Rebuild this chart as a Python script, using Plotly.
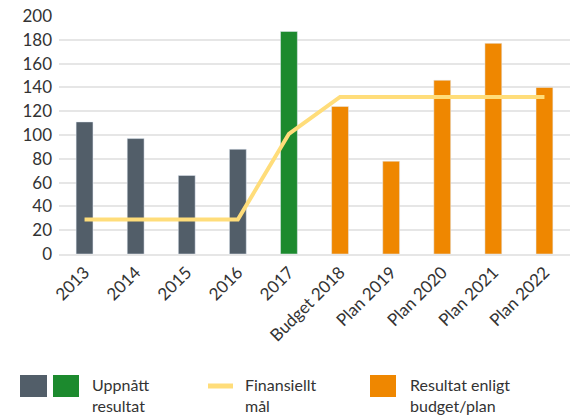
import plotly.graph_objects as go

categories = ["2013", "2014", "2015", "2016", "2017", "Budget 2018",
              "Plan 2019", "Plan 2020", "Plan 2021", "Plan 2022"]
resultat = [111, 97, 66, 88, 187, 124, 78, 146, 177, 140]
mal = [29, 29, 29, 29, 101, 132, 132, 132, 132, 132]
bar_colors = ["#525e69"] * 4 + ["#1c8a2e"] + ["#ef8700"] * 5
y_ticks = [0, 20, 40, 60, 80, 100, 120, 140, 160, 180, 200]

FONT = "Lato"
TXT = "#333333"

fig = go.Figure()
fig.add_trace(go.Bar(x=categories, y=resultat, marker_color=bar_colors,
                     width=0.33, showlegend=False))
fig.add_trace(go.Scatter(x=categories, y=mal, mode="lines",
                         line=dict(color="#ffdd7a", width=4), showlegend=False))

fig.update_layout(
    width=584, height=418,
    margin=dict(l=59, r=14, t=16, b=164),
    paper_bgcolor="white", plot_bgcolor="white",
    font=dict(family=FONT, size=17, color=TXT),
)
fig.update_xaxes(tickangle=-45, showgrid=False, showline=True,
                 linecolor="#e6e6e6", linewidth=1.5, ticks="",
                 automargin=False, tickfont=dict(size=17, color=TXT))
fig.update_yaxes(range=[0, 200], tickvals=y_ticks, showgrid=True,
                 gridcolor="#e6e6e6", gridwidth=1.5, zeroline=False,
                 ticks="", automargin=False, ticklabelstandoff=6,
                 tickfont=dict(size=17, color=TXT))

# legend built from layout shapes/annotations
W, H = 584, 418
pl, pr, pt, pb = 59, 14, 16, 164
pw, ph = W - pl - pr, H - pt - pb

def px(x):
    return (x - pl) / pw

def py(y):
    return (H - pb - y) / ph

legend_rects = [(20, 47, "#525e69"), (53, 79, "#1c8a2e"), (370, 396, "#ef8700")]
for x0, x1, c in legend_rects:
    fig.add_shape(type="rect", xref="paper", yref="paper",
                  x0=px(x0), x1=px(x1), y0=py(375), y1=py(397),
                  fillcolor=c, line_width=0)
fig.add_shape(type="line", xref="paper", yref="paper",
              x0=px(208), x1=px(233), y0=py(386), y1=py(386),
              line=dict(color="#ffdd7a", width=5))

legend_texts = [(90, "Uppnått<br>resultat"), (243, "Finansiellt<br>mål"),
                (408, "Resultat enligt<br>budget/plan")]
for x, t in legend_texts:
    fig.add_annotation(xref="paper", yref="paper", x=px(x), y=py(373),
                       xanchor="left", yanchor="top", text=t, showarrow=False,
                       align="left", font=dict(size=16, color=TXT, family=FONT))

fig.write_html("out.html", config={"displayModeBar": False},
               post_script="document.body.style.margin='0';document.body.style.overflow='hidden';")
